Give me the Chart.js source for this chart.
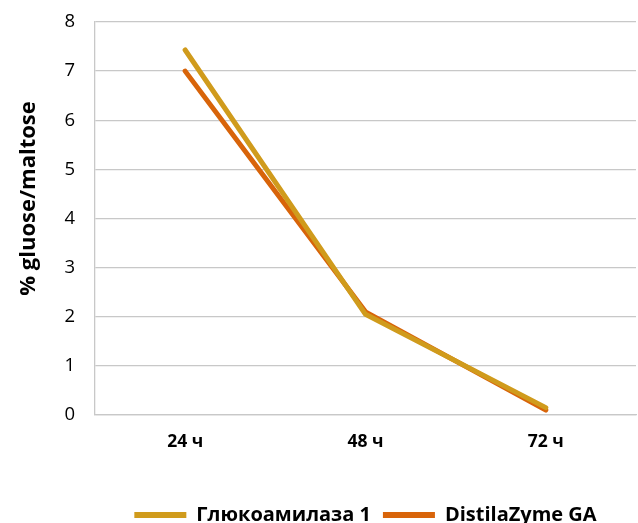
<!DOCTYPE html>
<html>
<head>
<meta charset="utf-8">
<script src="https://cdn.jsdelivr.net/npm/chart.js@4/dist/chart.umd.min.js"></script>
<style>
html,body{margin:0;padding:0;background:#fff;overflow:hidden;}
#wrap{width:638px;height:523px;position:relative;overflow:hidden;}
canvas{display:block;}
</style>
</head>
<body>
<div id="wrap"><canvas id="c" width="638" height="535"></canvas></div>
<script>
const categories = ["24 ч", "48 ч", "72 ч"];
const seriesNames = ["Глюкоамилаза 1", "DistilaZyme GA"];
const glucoamylase1 = [7.43, 2.05, 0.15];
const distilaZyme = [7.0, 2.1, 0.1];
const yTicks = [0, 1, 2, 3, 4, 5, 6, 7, 8];
const yTitle = "% gluose/maltose";

const FONT = "'Open Sans', 'Noto Sans', 'DejaVu Sans', sans-serif";
const gold = "#D09B1C";
const orange = "#D8640A";

new Chart(document.getElementById('c'), {
  type: 'line',
  data: {
    labels: categories,
    datasets: [
      {label: seriesNames[0], data: glucoamylase1, borderColor: gold, backgroundColor: gold,
       borderWidth: 5, pointRadius: 0, borderCapStyle: 'round', borderJoinStyle: 'round', tension: 0},
      {label: seriesNames[1], data: distilaZyme, borderColor: orange, backgroundColor: orange,
       borderWidth: 5, pointRadius: 0, borderCapStyle: 'round', borderJoinStyle: 'round', tension: 0}
    ]
  },
  options: {
    responsive: false,
    animation: false,
    devicePixelRatio: 1,
    layout: {padding: {top: 2, right: 2, left: 10, bottom: 0}},
    plugins: {
      legend: {
        position: 'bottom',
        fullSize: false,
        labels: {
          font: {family: FONT, size: 20, weight: 'bold'},
          color: '#000',
          boxWidth: 52,
          boxHeight: 6,
          padding: 12,
          generateLabels: (chart) => Chart.defaults.plugins.legend.labels.generateLabels(chart).map(l => Object.assign(l, {lineWidth: 0}))
        }
      },
      tooltip: {enabled: false}
    },
    scales: {
      x: {
        offset: true,
        grid: {display: false, drawTicks: false},
        border: {color: '#c8c8c8', width: 1.3},
        ticks: {font: {family: FONT, size: 17.5, weight: 'bold'}, color: '#000', padding: 17},
        afterFit: (s) => { s.height += 23; }
      },
      y: {
        min: 0, max: 8,
        afterBuildTicks: (s) => { s.ticks = yTicks.map(v => ({value: v})); },
        afterFit: (s) => { s.paddingTop = 22; },
        grid: {color: '#c8c8c8', lineWidth: 1.3, drawTicks: false},
        border: {color: '#c8c8c8', width: 1.3},
        ticks: {font: {family: FONT, size: 18.5}, color: '#000', padding: 20},
        title: {display: true, text: '\u00A0\u00A0\u00A0\u00A0\u00A0\u00A0\u00A0' + yTitle, font: {family: FONT, size: 22, weight: 'bold'}, color: '#000', padding: {top: 6, bottom: 2}}
      }
    }
  }
});
</script>
</body>
</html>
